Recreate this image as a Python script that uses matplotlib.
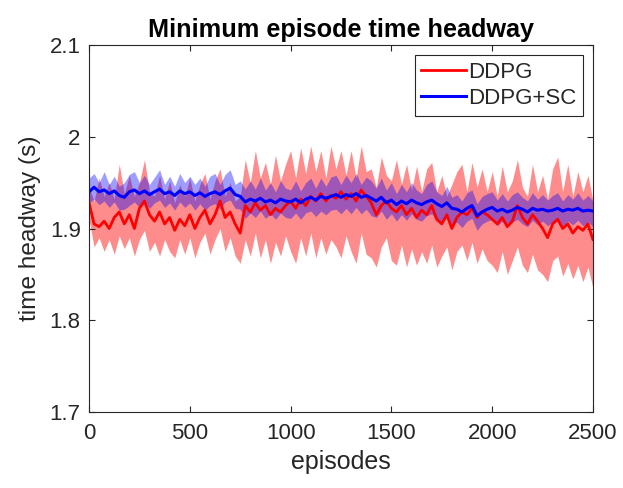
import numpy as np
import matplotlib
matplotlib.use("Agg")
import matplotlib.pyplot as plt

plt.rcParams['font.family'] = ['Liberation Sans', 'DejaVu Sans']

title = "Minimum episode time headway"
xlabel = "episodes"
ylabel = "time headway (s)"
series_names = ["DDPG", "DDPG+SC"]
x_ticks = [0, 500, 1000, 1500, 2000, 2500]
y_ticks = [1.7, 1.8, 1.9, 2.0, 2.1]
y_tick_labels = ["1.7", "1.8", "1.9", "2", "2.1"]

episodes = list(range(0, 2501, 25))

red_mean = [1.928, 1.905, 1.902, 1.908, 1.900, 1.912, 1.918, 1.905, 1.915, 1.900,
            1.922, 1.930, 1.915, 1.908, 1.918, 1.905, 1.912, 1.898, 1.910, 1.903,
            1.915, 1.900, 1.912, 1.920, 1.905, 1.915, 1.930, 1.912, 1.918, 1.905,
            1.895, 1.925, 1.918, 1.928, 1.920, 1.925, 1.915, 1.922, 1.918, 1.925,
            1.930, 1.922, 1.932, 1.925, 1.935, 1.930, 1.938, 1.930, 1.936, 1.933,
            1.940, 1.932, 1.938, 1.930, 1.942, 1.935, 1.928, 1.915, 1.925, 1.930,
            1.922, 1.918, 1.925, 1.915, 1.922, 1.912, 1.920, 1.915, 1.925, 1.910,
            1.905, 1.915, 1.900, 1.912, 1.918, 1.915, 1.922, 1.912, 1.918, 1.915,
            1.910, 1.905, 1.912, 1.902, 1.908, 1.925, 1.912, 1.905, 1.915, 1.908,
            1.900, 1.890, 1.905, 1.910, 1.900, 1.905, 1.895, 1.902, 1.898, 1.905,
            1.888]

red_hi = [1.945, 1.930, 1.955, 1.935, 1.950, 1.932, 1.970, 1.938, 1.958, 1.935,
          1.950, 1.975, 1.940, 1.935, 1.958, 1.932, 1.952, 1.928, 1.948, 1.935,
          1.955, 1.930, 1.948, 1.960, 1.932, 1.952, 1.965, 1.935, 1.950, 1.930,
          1.935, 1.975, 1.950, 1.985, 1.955, 1.972, 1.948, 1.980, 1.952, 1.970,
          1.985, 1.955, 1.988, 1.960, 1.990, 1.962, 1.985, 1.955, 1.990, 1.965,
          1.985, 1.958, 1.985, 1.955, 1.990, 1.962, 1.965, 1.945, 1.978, 1.958,
          1.952, 1.975, 1.948, 1.970, 1.942, 1.968, 1.940, 1.965, 1.972, 1.940,
          1.958, 1.935, 1.948, 1.962, 1.970, 1.940, 1.972, 1.945, 1.965, 1.940,
          1.962, 1.935, 1.968, 1.940, 1.952, 1.975, 1.945, 1.935, 1.970, 1.940,
          1.958, 1.932, 1.965, 1.978, 1.940, 1.970, 1.935, 1.962, 1.940, 1.958,
          1.930]

red_lo = [1.910, 1.880, 1.890, 1.875, 1.888, 1.872, 1.892, 1.878, 1.890, 1.870,
          1.888, 1.898, 1.875, 1.885, 1.870, 1.888, 1.875, 1.868, 1.888, 1.872,
          1.890, 1.868, 1.885, 1.895, 1.872, 1.888, 1.900, 1.875, 1.890, 1.870,
          1.862, 1.888, 1.870, 1.895, 1.868, 1.888, 1.862, 1.885, 1.870, 1.892,
          1.875, 1.862, 1.890, 1.870, 1.895, 1.868, 1.890, 1.872, 1.888, 1.880,
          1.868, 1.892, 1.875, 1.862, 1.895, 1.872, 1.868, 1.858, 1.880, 1.890,
          1.865, 1.860, 1.882, 1.858, 1.878, 1.860, 1.875, 1.862, 1.882, 1.858,
          1.870, 1.880, 1.855, 1.875, 1.882, 1.865, 1.885, 1.862, 1.878, 1.865,
          1.860, 1.852, 1.875, 1.850, 1.865, 1.880, 1.860, 1.852, 1.872, 1.855,
          1.850, 1.842, 1.865, 1.870, 1.848, 1.862, 1.845, 1.860, 1.842, 1.858,
          1.835]

blue_mean = [1.940, 1.945, 1.940, 1.942, 1.938, 1.941, 1.936, 1.934, 1.940, 1.942,
             1.938, 1.941, 1.937, 1.940, 1.943, 1.938, 1.940, 1.936, 1.941, 1.938,
             1.940, 1.936, 1.939, 1.935, 1.938, 1.940, 1.937, 1.941, 1.944, 1.937,
             1.935, 1.929, 1.932, 1.930, 1.933, 1.929, 1.931, 1.928, 1.932, 1.930,
             1.929, 1.932, 1.928, 1.932, 1.934, 1.931, 1.935, 1.933, 1.935, 1.937,
             1.934, 1.937, 1.935, 1.938, 1.934, 1.936, 1.933, 1.930, 1.934, 1.928,
             1.931, 1.926, 1.930, 1.927, 1.931, 1.928, 1.926, 1.929, 1.931, 1.927,
             1.924, 1.928, 1.922, 1.921, 1.918, 1.922, 1.925, 1.914, 1.918, 1.921,
             1.923, 1.919, 1.921, 1.918, 1.920, 1.923, 1.921, 1.918, 1.922, 1.920,
             1.921, 1.919, 1.920, 1.922, 1.919, 1.921, 1.920, 1.922, 1.919, 1.920,
             1.919]

blue_hi = [1.955, 1.960, 1.950, 1.962, 1.948, 1.957, 1.946, 1.950, 1.959, 1.962,
           1.950, 1.958, 1.948, 1.956, 1.964, 1.948, 1.957, 1.946, 1.960, 1.950,
           1.957, 1.948, 1.955, 1.946, 1.957, 1.960, 1.948, 1.959, 1.964, 1.948,
           1.952, 1.943, 1.952, 1.943, 1.955, 1.942, 1.950, 1.940, 1.952, 1.944,
           1.942, 1.952, 1.941, 1.950, 1.955, 1.944, 1.955, 1.946, 1.956, 1.958,
           1.948, 1.958, 1.950, 1.960, 1.948, 1.956, 1.952, 1.944, 1.955, 1.942,
           1.950, 1.938, 1.948, 1.940, 1.950, 1.942, 1.938, 1.948, 1.952, 1.940,
           1.936, 1.946, 1.934, 1.937, 1.930, 1.939, 1.942, 1.927, 1.935, 1.938,
           1.940, 1.931, 1.938, 1.930, 1.937, 1.940, 1.934, 1.930, 1.939, 1.932,
           1.937, 1.931, 1.936, 1.939, 1.930, 1.937, 1.932, 1.939, 1.931, 1.936,
           1.930]

blue_lo = [1.928, 1.932, 1.926, 1.930, 1.923, 1.929, 1.920, 1.921, 1.925, 1.929,
           1.923, 1.929, 1.922, 1.928, 1.931, 1.923, 1.928, 1.920, 1.929, 1.923,
           1.928, 1.920, 1.927, 1.920, 1.925, 1.927, 1.921, 1.929, 1.931, 1.922,
           1.921, 1.911, 1.917, 1.912, 1.919, 1.911, 1.916, 1.910, 1.917, 1.912,
           1.911, 1.917, 1.910, 1.917, 1.919, 1.913, 1.919, 1.915, 1.920, 1.921,
           1.916, 1.922, 1.916, 1.923, 1.916, 1.921, 1.914, 1.912, 1.919, 1.910,
           1.916, 1.908, 1.915, 1.909, 1.916, 1.910, 1.908, 1.914, 1.916, 1.909,
           1.906, 1.913, 1.904, 1.907, 1.901, 1.908, 1.911, 1.898, 1.905, 1.908,
           1.910, 1.903, 1.908, 1.902, 1.907, 1.910, 1.905, 1.902, 1.909, 1.904,
           1.908, 1.903, 1.907, 1.909, 1.903, 1.908, 1.904, 1.909, 1.903, 1.907,
           1.902]

fig = plt.figure(figsize=(6.23, 4.88), dpi=100)
ax = fig.add_axes([0.1429, 0.1557, 0.8089, 0.7521])

gray = (0.15, 0.15, 0.15)

ax.fill_between(episodes, red_lo, red_hi, color=(1.0, 0.0, 0.0), alpha=0.45,
                linewidth=0)
ax.plot(episodes, red_mean, color=(1, 0, 0), linewidth=2.0, label=series_names[0])
ax.fill_between(episodes, blue_lo, blue_hi, color=(0.0, 0.0, 1.0), alpha=0.38,
                linewidth=0)
ax.plot(episodes, blue_mean, color=(0, 0, 1), linewidth=2.2, label=series_names[1])

ax.set_xlim(0, 2500)
ax.set_ylim(1.7, 2.1)
ax.set_xticks(x_ticks)
ax.set_yticks(y_ticks)
ax.set_yticklabels(y_tick_labels)

for s in ax.spines.values():
    s.set_color(gray)
    s.set_linewidth(0.8)
ax.tick_params(direction='in', length=4, width=0.8, colors=gray, labelsize=16,
               top=True, right=True, pad=6)
ax.tick_params(axis='x', pad=8)

ax.set_xlabel(xlabel, fontsize=18, color=gray, labelpad=4)
ax.set_ylabel(ylabel, fontsize=17.6, color=gray, labelpad=6)
ax.set_title(title, fontsize=18.2, fontweight='bold', color='black', pad=6)

leg = ax.legend(loc='upper right', fontsize=16, frameon=True, fancybox=False,
                edgecolor=gray, framealpha=1, handlelength=2.0, handletextpad=0.1,
                borderpad=0.3, labelspacing=0.25, borderaxespad=0.45)
leg.get_frame().set_linewidth(0.8)
for t in leg.get_texts():
    t.set_color(gray)

fig.savefig("out.png", dpi=100)
